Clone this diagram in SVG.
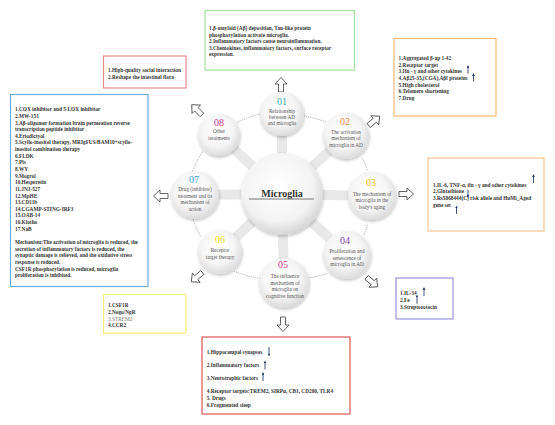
<svg xmlns="http://www.w3.org/2000/svg" width="555" height="425" viewBox="0 0 555 425">
<style>
.box{fill:#fff;stroke-width:1.2}
.bt{font-family:"Liberation Serif",serif;font-size:5.3px;font-weight:bold;fill:#333}
.ct{font-family:"Liberation Serif",serif;font-size:5.2px;fill:#555;text-anchor:middle}
.num{font-family:"Liberation Serif",serif;font-size:10px;text-anchor:middle}
.spoke{stroke:#e8e8e8;stroke-width:10;stroke-linecap:butt}
.dot{fill:none;stroke:#888;stroke-width:0.8;stroke-dasharray:0.9 1.1}
.ha{fill:#fff;stroke:#555;stroke-width:0.9}
.na{stroke:#2e4070;stroke-width:0.9;fill:none;marker-end:url(#nah)}
.sat{fill:url(#sg);filter:url(#sh)}
</style>
<defs>
<radialGradient id="sg" cx="45%" cy="40%" r="62%">
<stop offset="0" stop-color="#ffffff"/>
<stop offset="0.6" stop-color="#f5f5f5"/>
<stop offset="1" stop-color="#d9d9d9"/>
</radialGradient>
<radialGradient id="cg" cx="45%" cy="40%" r="62%">
<stop offset="0" stop-color="#ffffff"/>
<stop offset="0.7" stop-color="#f3f3f3"/>
<stop offset="1" stop-color="#d2d2d2"/>
</radialGradient>
<filter id="sh" x="-30%" y="-30%" width="160%" height="170%">
<feDropShadow dx="0.5" dy="1.5" stdDeviation="1.5" flood-color="#000" flood-opacity="0.25"/>
</filter>
<marker id="nah" viewBox="0 0 6 6" refX="3" refY="3" markerWidth="3.2" markerHeight="3.2" orient="auto">
<path d="M0,0 L6,3 L0,6 Z" fill="#2e4070"/>
</marker>
<path id="ha" d="M-7,-2.5 L1,-2.5 L1,-6 L7.5,0 L1,6 L1,2.5 L-7,2.5 Z"/>
</defs>
<rect width="555" height="425" fill="#fff"/>

<g id="connectors">
<line class="spoke" x1="282" y1="194" x2="282" y2="114"/>
<line class="spoke" x1="282" y1="194" x2="346" y2="136"/>
<line class="spoke" x1="282" y1="194" x2="372" y2="196"/>
<line class="spoke" x1="282" y1="194" x2="347" y2="255"/>
<line class="spoke" x1="282" y1="194" x2="284" y2="283"/>
<line class="spoke" x1="282" y1="194" x2="220" y2="252"/>
<line class="spoke" x1="282" y1="194" x2="195" y2="195"/>
<line class="spoke" x1="282" y1="194" x2="219" y2="135"/>
<path class="dot" d="M304,116 Q316,118 327,122.5"/>
<path class="dot" d="M362,158 Q366,164 367.5,171"/>
<path class="dot" d="M367.5,225 Q366,230 364,235"/>
<path class="dot" d="M327,273.5 Q316,277 304,278.5"/>
<path class="dot" d="M260,278.5 Q246,276 233,271"/>
<path class="dot" d="M201,236.6 Q196,228 192.6,218"/>
<path class="dot" d="M192.6,171 Q197,160 203,151"/>
<path class="dot" d="M237,122.5 Q248,117 260,114"/>
<use href="#ha" class="ha" transform="translate(281,85) rotate(-90)"/>
<use href="#ha" class="ha" transform="translate(374,121) rotate(-40)"/>
<use href="#ha" class="ha" transform="translate(406,194)"/>
<use href="#ha" class="ha" transform="translate(372,282) rotate(40)"/>
<use href="#ha" class="ha" transform="translate(283,324) rotate(90)"/>
<use href="#ha" class="ha" transform="translate(197,277) rotate(140)"/>
<use href="#ha" class="ha" transform="translate(161,196) rotate(180)"/>
<use href="#ha" class="ha" transform="translate(197,110) rotate(-135)"/>
</g>

<g id="center">
<circle cx="282" cy="194" r="41" fill="url(#cg)" filter="url(#sh)"/>
<text x="282" y="196.5" text-anchor="middle" style="font-family:'Liberation Serif',serif;font-size:10px;font-weight:bold;fill:#333">Microglia</text>
<line x1="249" y1="199" x2="314" y2="199" stroke="#555" stroke-width="0.8"/>
</g>

<g id="n01">
<circle class="sat" cx="282" cy="114" r="22"/>
<text class="num" x="282" y="105.3" fill="#3bb3b5">01</text>
<text class="ct" x="282" y="113">Relationship</text>
<text class="ct" x="282" y="119">between AD</text>
<text class="ct" x="282" y="125.2">and microglia</text>
</g>
<g id="n02">
<circle class="sat" cx="346" cy="136" r="23"/>
<text class="num" x="345" y="124.5" fill="#ea8a3c">02</text>
<text class="ct" x="346" y="133.8">The activation</text>
<text class="ct" x="346" y="140.4">mechanism of</text>
<text class="ct" x="346" y="147">microglia in AD</text>
</g>
<g id="n03">
<circle class="sat" cx="372" cy="196" r="24"/>
<text class="num" x="371" y="185.5" fill="#f2c314">03</text>
<text class="ct" x="372" y="195.8">The mechanism of</text>
<text class="ct" x="372" y="202.2">microglia in the</text>
<text class="ct" x="372" y="208.8">body's aging</text>
</g>
<g id="n04">
<circle class="sat" cx="347" cy="255" r="24"/>
<text class="num" x="345" y="243.5" fill="#7a3fb0">04</text>
<text class="ct" x="347" y="252.8">Proliferation and</text>
<text class="ct" x="347" y="259.5">senescence of</text>
<text class="ct" x="347" y="266.2">microglia in AD</text>
</g>
<g id="n05">
<circle class="sat" cx="284" cy="283" r="25"/>
<text class="num" x="283" y="267.5" fill="#d63f8c">05</text>
<text class="ct" x="285" y="277.8">The influence</text>
<text class="ct" x="285" y="284.8">mechanism of</text>
<text class="ct" x="285" y="291.4">microglia on</text>
<text class="ct" x="285" y="298.1">cognitive function</text>
</g>
<g id="n06">
<circle class="sat" cx="220" cy="252" r="22"/>
<text class="num" x="220" y="242.5" fill="#f0e020">06</text>
<text class="ct" x="220" y="251.8">Receptor</text>
<text class="ct" x="220" y="258.5">target therapy</text>
</g>
<g id="n07">
<circle class="sat" cx="195" cy="195" r="24"/>
<text class="num" x="194" y="183.3" fill="#3ea6dc">07</text>
<text class="ct" x="195" y="191">Drug (inhibitor)</text>
<text class="ct" x="195" y="197.6">treatment and its</text>
<text class="ct" x="195" y="204.2">mechanism of</text>
<text class="ct" x="195" y="210.6">action</text>
</g>
<g id="n08">
<circle class="sat" cx="219" cy="135" r="21"/>
<text class="num" x="219" y="125.8" fill="#c8408c">08</text>
<text class="ct" x="219" y="133.4">Other</text>
<text class="ct" x="219" y="139.8">treatments</text>
</g>

<g id="box01">
<rect class="box" x="205" y="10.5" width="149.5" height="59.5" stroke="#a6e3a0"/>
<text class="bt" x="209" y="30.3">1.β-amyloid (Aβ) deposition,  Tau-like protein</text>
<text class="bt" x="209" y="36.5">phosphorylation activate microglia.</text>
<text class="bt" x="209" y="43.2">2.Inflammatory factors cause neuroinflammation.</text>
<text class="bt" x="209" y="49.8">3.Chemokines, inflammatory factors, surface receptor</text>
<text class="bt" x="209" y="56.3">expression.</text>
</g>

<g id="box08">
<rect class="box" x="103.5" y="56" width="82.5" height="32" stroke="#e88a8a"/>
<text class="bt" x="108" y="72.3">1.High-quality social interaction</text>
<text class="bt" x="108" y="78.8">2.Reshape the intestinal flora</text>
</g>

<g id="box07">
<rect class="box" x="10.5" y="94.5" width="137.5" height="192" stroke="#6aaee0"/>
<text class="bt" x="15" y="111.2">1.COX inhibitor and 5-LOX inhibitor</text>
<text class="bt" x="15" y="117.8">2.MW-151</text>
<text class="bt" x="15" y="124.5">3.Aβ-oligomer formation brain permeation reverse</text>
<text class="bt" x="15" y="131.1">transcription peptide inhibitor</text>
<text class="bt" x="15" y="137.8">4.Eriodictyol</text>
<text class="bt" x="15" y="144.4">5.Scyllo-inositol therapy, MRIgFUS/BAM10+scyllo-</text>
<text class="bt" x="15" y="151.0">inositol combination therapy</text>
<text class="bt" x="15" y="157.7">6.FLDK</text>
<text class="bt" x="15" y="164.3">7.Pls</text>
<text class="bt" x="15" y="171.0">8.WY</text>
<text class="bt" x="15" y="177.6">9.Mogrol</text>
<text class="bt" x="15" y="184.2">10.Hesperetin</text>
<text class="bt" x="15" y="190.9">11.JNJ-527</text>
<text class="bt" x="15" y="197.5">12.MpHE</text>
<text class="bt" x="15" y="204.2">13.CD11b</text>
<text class="bt" x="15" y="210.8">14.CGAMP-STING-IRF3</text>
<text class="bt" x="15" y="217.4">15.OAB-14</text>
<text class="bt" x="15" y="224.1">16.Klotho</text>
<text class="bt" x="15" y="230.7">17.NaB</text>
<text class="bt" x="15" y="244.0">Mechanism:The activation of microglia is reduced, the</text>
<text class="bt" x="15" y="250.6">secretion of inflammatory factors is reduced, the</text>
<text class="bt" x="15" y="257.3">synaptic damage is relieved, and the oxidative stress</text>
<text class="bt" x="15" y="263.9">response is reduced.</text>
<text class="bt" x="15" y="270.6">CSF1R phosphorylation is reduced, microglia</text>
<text class="bt" x="15" y="277.2">proliferation is inhibited.</text>
</g>

<g id="box02">
<rect class="box" x="394" y="38.5" width="102" height="77.5" stroke="#f5b97a"/>
<text class="bt" x="398.6" y="59.8">1.Aggregated β-ap 1-42</text>
<text class="bt" x="398.6" y="66.5">2.Receptor target</text>
<text class="bt" x="398.6" y="73.2">3.Ifn - γ and other cytokines</text>
<text class="bt" x="398.6" y="80">4.Aβ25-35,(CGA),Aβf proteins</text>
<text class="bt" x="398.6" y="86.6">5.High cholesterol</text>
<text class="bt" x="398.6" y="93.2">6.Telomere shortening</text>
<text class="bt" x="398.6" y="99.9">7.Drug</text>
<path class="na" d="M468,73.5 V66.5"/>
<path class="na" d="M473.5,81.5 V74.5"/>
</g>

<g id="box03">
<rect class="box" x="428" y="158" width="116" height="73" stroke="#f7c590"/>
<text class="bt" x="433" y="186.8">1.IL-6,  TNF-α, ifn - γ and other cytokines</text>
<text class="bt" x="433" y="193.4">2.Glutathione</text>
<text class="bt" x="433" y="200.1">3.Rs5868444(C) risk allele and HuMi_Aged</text>
<text class="bt" x="433" y="206.8">gene set</text>
<path class="na" d="M533.5,183 V175.5"/>
<path class="na" d="M468,189.6 V196.5"/>
<path class="na" d="M456.5,214 V207"/>
</g>

<g id="box04">
<rect class="box" x="396" y="278" width="57" height="41" stroke="#9a94e0"/>
<text class="bt" x="400" y="295.4">1.IL-34</text>
<text class="bt" x="400" y="302.1">2.Fe</text>
<text class="bt" x="400" y="308.5">3.Streptozotocin</text>
<path class="na" d="M424,296 V288.5"/>
<path class="na" d="M417,303.7 V296"/>
</g>

<g id="box06">
<rect class="box" x="103.5" y="294.5" width="82.5" height="38.5" stroke="#f5ef7a"/>
<text class="bt" x="108" y="307.2">1.CSF1R</text>
<text class="bt" x="108" y="313.9">2.Nogo/NgR</text>
<text class="bt" x="108" y="320.6" style="font-weight:normal;fill:#777">3.STREM2</text>
<text class="bt" x="108" y="327.2">4.CCR2</text>
</g>

<g id="box05">
<rect class="box" x="202" y="337" width="148" height="77" stroke="#dd5555"/>
<text class="bt" x="206.7" y="353.5">1.Hippocampal synapses</text>
<text class="bt" x="206.7" y="366.8">2.Inflammatory factors</text>
<text class="bt" x="206.7" y="379.8">3.Neurotrophic factors</text>
<text class="bt" x="206.7" y="393.1">4.Receptor targets:TREM2, SIRPα, CB1, CD200, TLR4</text>
<text class="bt" x="206.7" y="399.8">5. Drugs</text>
<text class="bt" x="206.7" y="406.5">6.Fragmented sleep</text>
<path class="na" d="M269,347 V355"/>
<path class="na" d="M265,369.5 V362"/>
<path class="na" d="M263,381 V373.5"/>
</g>
</svg>
